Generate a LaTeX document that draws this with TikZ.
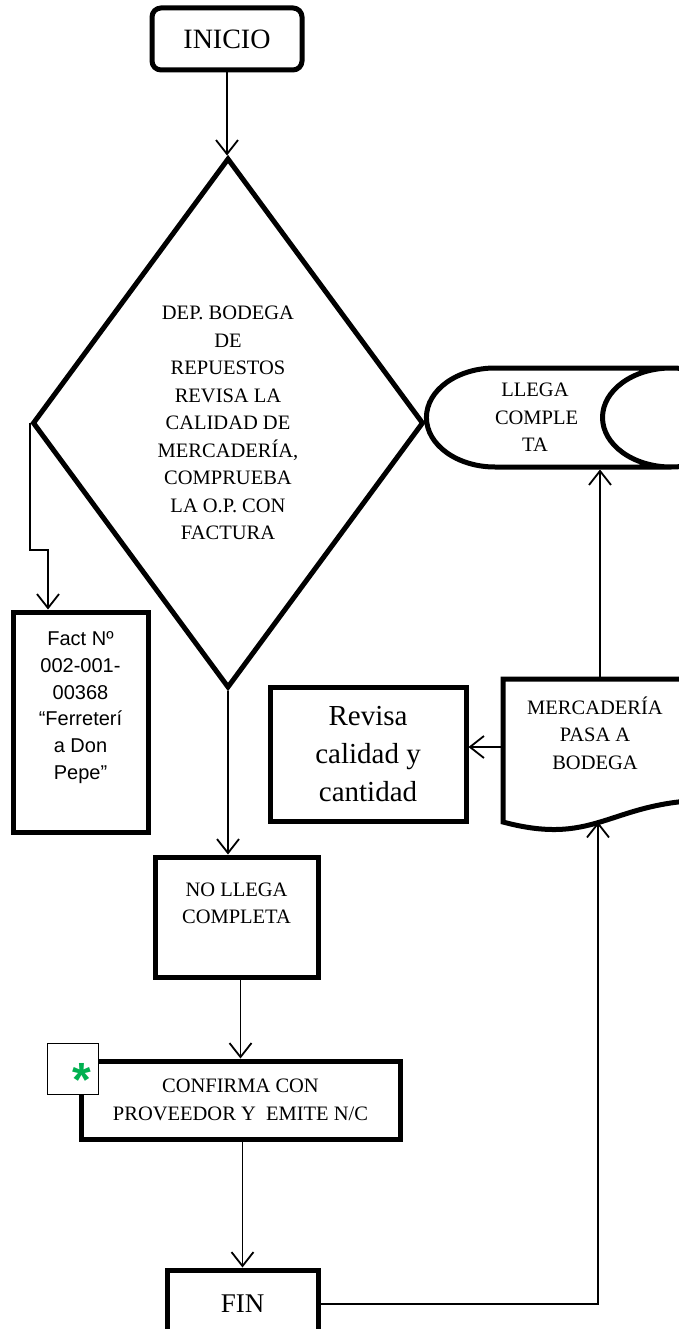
\documentclass[tikz,border=0pt]{standalone}
\usepackage{fontspec}
\setmainfont{Liberation Serif}
\newfontfamily\arialfont{Liberation Sans}
\usetikzlibrary{shapes.geometric,arrows.meta}

\definecolor{astgreen}{HTML}{00B050}

\tikzset{
  box/.style={draw, line width=5pt, inner sep=0pt, align=center},
  arr/.style={line width=1.8pt, -{Straight Barb[length=14pt,width=22pt]}},
  txt/.style={font=\fontsize{20.5}{27.5}\selectfont},
}
% text pinned to the top of a box: height, width, top pad, lines
\newcommand{\toptext}[4]{\parbox[c][#1][t]{#2}{\centering\vspace*{#3}\strut #4}}

\begin{document}
\begin{tikzpicture}[x=1pt,y=-1pt]
\useasboundingbox (0,0) rectangle (679,1329);

\node[box, rounded corners=9pt, minimum width=150pt, minimum height=62pt,
  font=\fontsize{28}{34}\selectfont] (inicio) at (227,39) {INICIO};

\node[box, diamond, aspect=0.74, minimum width=391pt, minimum height=530pt, txt]
  (diam) at (228,423)
  {DEP. BODEGA\\DE\\REPUESTOS\\REVISA LA\\CALIDAD DE\\MERCADERÍA,\\COMPRUEBA\\LA O.P. CON\\FACTURA};

% lying cylinder, text kept left of the end cap
\node[box, cylinder, aspect=2, minimum width=99pt, minimum height=245pt, txt]
  (llega) at (547.5,417.5)
  {\parbox{80pt}{\centering LLEGA\\COMPLE\\TA}\hspace*{25pt}};

\node[box, font=\arialfont\fontsize{20}{26.7}\selectfont] (fact) at (80.5,722)
  {\toptext{220pt}{135pt}{15pt}{Fact Nº\\002-001-\\00368\\“Ferreterí\\a Don\\Pepe”}};

% document shape, open on the right
\node[txt, inner sep=0pt, align=center] (merc) at (595,733) {MERCADERÍA\\PASA A\\BODEGA};
\draw[line width=5pt] (720,679) -- (503,679) -- (503,822)
  .. controls (600,848) and (610,798) .. (720,800);
\coordinate (merc-n) at (600,679);
\coordinate (merc-w) at (503,747);
\coordinate (merc-s) at (598,822);

\node[box, minimum width=196pt, minimum height=134pt,
  font=\fontsize{29}{38}\selectfont] (revisa) at (368,754) {Revisa\\calidad y\\cantidad};

\node[box, txt] (nollega) at (236.5,917) {\toptext{120pt}{163pt}{20pt}{NO LLEGA\\COMPLETA}};

\node[box, txt, minimum width=319pt, minimum height=78pt] (confirm) at (240.5,1100)
  {CONFIRMA CON\\PROVEEDOR Y\ \ EMITE N/C};
\node[draw, line width=0.8pt, fill=white, minimum size=51pt, inner sep=0pt,
  text=astgreen, font=\arialfont\bfseries\fontsize{48}{48}\selectfont]
  (mark) at (72.5,1068.5) {\hspace*{19pt}\raisebox{-28pt}[0pt][0pt]{*}};

\node[box, minimum width=151pt, minimum height=68pt,
  font=\fontsize{27}{32}\selectfont] (fin) at (242.5,1304) {FIN};

\coordinate (elbow) at (48,550);

\draw[arr] (inicio.south) -- (inicio.south |- diam.north);
\draw[arr] (diam.west) |- (elbow) -- (elbow |- fact.north);
\draw[arr] (diam.south) -- (diam.south |- nollega.north);
\draw[arr] (confirm.north |- nollega.south) -- (confirm.north);
\draw[arr] (fin.north |- confirm.south) -- (fin.north);
\draw[arr] (fin.east) -| (merc-s);
\draw[arr] (merc-n) -- (merc-n |- llega.south);
\draw[arr] (merc-w) -- (merc-w -| revisa.east);

\end{tikzpicture}
\end{document}
